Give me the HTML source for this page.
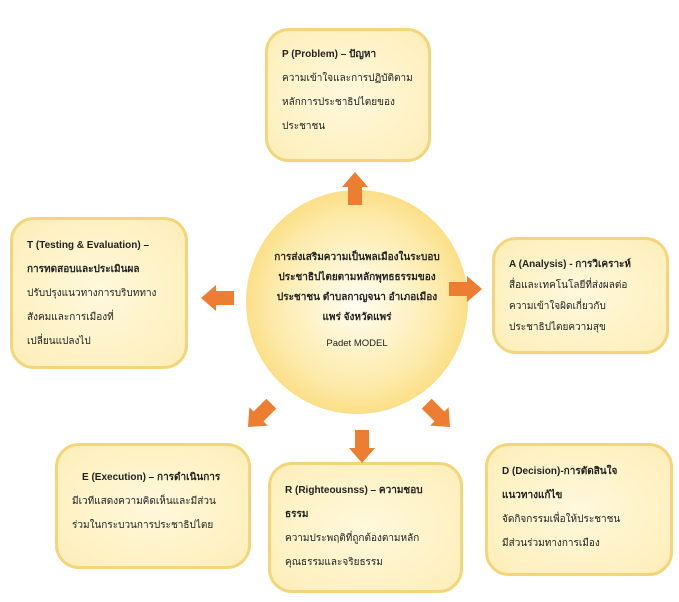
<!DOCTYPE html>
<html><head><meta charset="utf-8"><style>
body{margin:0;width:679px;height:602px;background:#fff;position:relative;overflow:hidden;font-family:"Liberation Sans","DejaVu Sans",sans-serif;color:#222}
.b{position:absolute;box-sizing:border-box;border:3px solid #f5d57a;border-radius:24px;background:radial-gradient(ellipse at center,#fff8dc 0%,#fdeeb8 100%);font-size:10px;line-height:24px;padding:10px 14px;white-space:nowrap}
.h{font-weight:bold}
#c{position:absolute;left:246px;top:190px;width:222px;height:224px;border-radius:50%;background:radial-gradient(circle at 50% 50%,#fffdf3 0%,#fdeaa8 55%,#f8c948 100%);text-align:center;font-size:10px;font-weight:bold;line-height:20px;box-sizing:border-box;padding-top:58px;white-space:nowrap}
</style></head><body>
<div class="b" style="left:265px;top:28px;width:166px;height:134px;padding-top:12px"><div class="h">P (Problem) – ปัญหา</div>ความเข้าใจและการปฏิบัติตาม<br>หลักการประชาธิปไตยของ<br>ประชาชน</div>
<div class="b" style="left:492px;top:237px;width:177px;height:117px;padding-top:14px;line-height:21px"><div class="h">A (Analysis) - การวิเคราะห์</div>สื่อและเทคโนโลยีที่ส่งผลต่อ<br>ความเข้าใจผิดเกี่ยวกับ<br>ประชาธิปไตยความสุข</div>
<div class="b" style="left:10px;top:217px;width:178px;height:152px;padding-top:14px"><div class="h">T (Testing &amp; Evaluation) –<br>การทดสอบและประเมินผล</div>ปรับปรุงแนวทางการบริบททาง<br>สังคมและการเมืองที่<br>เปลี่ยนแปลงไป</div>
<div class="b" style="left:55px;top:443px;width:196px;height:126px;padding:20px 14px"><div class="h" style="padding-left:10px">E (Execution) – การดำเนินการ</div>มีเวทีแสดงความคิดเห็นและมีส่วน<br>ร่วมในกระบวนการประชาธิปไตย</div>
<div class="b" style="left:268px;top:462px;width:195px;height:131px;padding-top:14px"><div class="h">R (Righteousnss) – ความชอบ<br>ธรรม</div>ความประพฤติที่ถูกต้องตามหลัก<br>คุณธรรมและจริยธรรม</div>
<div class="b" style="left:485px;top:443px;width:188px;height:133px;padding-top:14px"><div class="h">D (Decision)-การตัดสินใจ<br>แนวทางแก้ไข</div>จัดกิจกรรมเพื่อให้ประชาชน<br>มีส่วนร่วมทางการเมือง</div>
<div id="c">การส่งเสริมความเป็นพลเมืองในระบอบ<br>ประชาธิปไตยตามหลักพุทธธรรมของ<br>ประชาชน ตำบลกาญจนา อำเภอเมือง<br>แพร่ จังหวัดแพร่<div style="font-weight:normal;font-size:9.5px;margin-top:6px">Padet MODEL</div></div>
<svg width="679" height="602" style="position:absolute;left:0;top:0">
<defs><polygon id="a" points="-16,-7 2,-7 2,-13 17,0 2,13 2,7 -16,7" fill="#ed7d31"/></defs>
<use href="#a" transform="translate(355,189) rotate(-90)"/>
<use href="#a" transform="translate(465,289)"/>
<use href="#a" transform="translate(218,298) rotate(180)"/>
<use href="#a" transform="translate(260,415) rotate(135)"/>
<use href="#a" transform="translate(362,446) rotate(90)"/>
<use href="#a" transform="translate(438,415) rotate(45)"/>
</svg>
</body></html>
